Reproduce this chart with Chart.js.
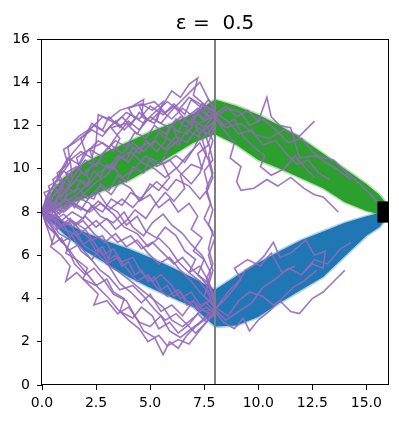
<!DOCTYPE html>
<html>
<head>
<meta charset="utf-8">
<script src="https://cdn.jsdelivr.net/npm/chart.js@4"></script>
<style>
  body { margin: 0; background: #fff; }
</style>
</head>
<body>
<canvas id="chart" width="399" height="423"></canvas>
<script>
// axis ticks
const xTicks = [0, 2.5, 5, 7.5, 10, 12.5, 15];
const yTicks = [0, 2, 4, 6, 8, 10, 12, 14, 16];

// band outlines
const bandX  = [0, 0.5, 1, 2, 3, 4, 5, 6, 7, 8, 9, 10, 11, 12, 13, 14, 15, 15.6, 16];
const greenU = [8.15, 9.0, 9.6, 10.3, 10.8, 11.25, 11.7, 12.1, 12.55, 13.2, 12.9, 12.5, 12.0, 11.4, 10.7, 10.0, 9.3, 8.8, 8.3];
const greenL = [7.9, 8.05, 8.25, 8.65, 9.05, 9.45, 10.0, 10.6, 11.2, 11.6, 11.1, 10.4, 10.0, 9.55, 9.1, 8.45, 8.05, 7.9, 7.85];
const blueU  = [8.05, 7.85, 7.55, 7.05, 6.65, 6.3, 5.9, 5.45, 4.95, 4.4, 5.05, 5.65, 6.2, 6.7, 7.1, 7.5, 7.8, 7.95, 8.1];
const blueL  = [7.9, 7.5, 7.0, 6.2, 5.6, 5.0, 4.5, 4.05, 3.6, 2.7, 2.75, 3.15, 3.8, 4.4, 5.0, 5.95, 6.9, 7.3, 7.8];

// purple walks
const walk1 = [[0,8],[0.3,8.4],[0.1,8.9],[0.6,9.1],[0.9,8.7],[1.3,9.3],[1.1,9.8],[1.6,10.1],[2.0,9.7],[2.4,10.3],[2.2,10.9],[2.8,11.2],[3.3,10.8],[3.6,11.4],[3.2,11.9],[3.9,12.1],[4.4,11.6],[4.8,12.3],[4.5,12.9],[5.2,13.1],[5.7,12.6],[6.1,13.0],[6.6,12.5],[6.9,13.2],[7.4,12.8],[7.8,12.3],[8,12.5]];
const walk2 = [[0,8],[0.4,7.8],[0.7,8.3],[1.2,8.6],[1.5,8.2],[1.9,8.8],[2.4,8.6],[2.7,9.3],[3.1,9.0],[3.5,9.7],[3.9,9.4],[4.2,10.1],[4.7,9.8],[5.0,10.5],[5.5,10.2],[5.8,10.9],[6.3,11.3],[6.1,11.8],[6.7,11.6],[7.1,12.2],[7.5,11.9],[7.9,12.4],[8,12.3]];
const walk3 = [[0,8],[0.2,8.5],[0.7,8.9],[0.5,9.5],[1.0,9.9],[1.4,9.6],[1.3,10.4],[1.8,10.8],[2.3,10.5],[2.5,11.2],[2.6,12.5],[3.1,12.3],[3.6,12.7],[4.2,12.9],[4.7,13.2],[4.6,12.4],[5.2,12.1],[5.5,12.8],[6.0,13.6],[6.4,13.3],[6.8,13.9],[7.2,14.2],[7.0,13.4],[7.6,12.9],[8,12.6]];
const walk4 = [[0,8],[0.5,8.1],[0.9,7.6],[1.4,8.0],[1.9,7.7],[2.3,8.3],[2.8,8.0],[3.2,8.6],[3.7,8.3],[4.1,8.9],[4.6,8.6],[5.0,9.3],[5.4,9.0],[5.9,9.6],[5.6,10.2],[6.2,10.6],[6.6,10.3],[7.0,10.9],[7.3,11.5],[7.1,12.0],[7.6,12.3],[8,12.4]];
const walk5 = [[0,8],[0.3,7.6],[0.8,8.0],[1.2,8.5],[1.7,8.9],[2.2,9.4],[2.0,9.9],[2.6,10.3],[3.1,10.0],[3.5,10.6],[4.0,10.3],[4.4,10.9],[4.9,11.2],[5.3,10.8],[5.8,11.4],[6.3,11.1],[6.7,11.8],[7.2,11.5],[7.6,12.0],[7.9,11.3],[7.7,10.6],[7.9,9.8],[7.6,9.1],[7.8,8.4],[7.5,7.7],[7.9,7.1],[7.7,6.3],[7.9,5.6],[7.6,4.9],[7.9,4.2],[8,3.6]];
const walk6 = [[0,8],[0.4,8.6],[0.9,9.2],[0.7,9.8],[1.2,10.2],[1.0,10.9],[1.5,11.2],[2.0,11.6],[2.4,12.0],[2.9,11.7],[3.4,12.2],[3.8,11.8],[4.3,12.3],[4.0,12.8],[4.6,13.0],[5.1,12.7],[5.6,13.1],[5.3,12.2],[5.9,11.9],[6.4,12.4],[6.9,12.1],[7.3,12.7],[7.7,13.2],[8,12.8]];
const walk7 = [[0,8],[0.2,8.7],[0.6,9.3],[1.1,9.0],[1.5,9.7],[2.0,10.4],[2.5,10.1],[2.9,10.8],[3.4,11.3],[3.9,11.0],[4.3,11.7],[4.8,11.4],[5.2,12.0],[5.7,11.6],[6.2,12.3],[6.7,11.9],[7.1,12.6],[7.5,12.2],[8,12.5]];
const walk8 = [[0,8],[0.4,8.3],[0.8,7.9],[1.3,8.4],[1.8,8.1],[2.2,8.7],[2.7,9.2],[3.2,8.8],[3.6,9.4],[4.1,9.1],[4.5,8.5],[5.0,8.8],[5.4,8.2],[5.9,8.6],[6.3,8.0],[6.8,8.4],[7.2,7.8],[6.9,7.2],[7.4,6.8],[7.0,6.2],[7.5,5.8],[7.2,5.1],[7.7,4.7],[7.5,4.1],[8,3.7]];
const walk9 = [[0,8],[0.5,7.6],[1.0,7.9],[1.5,7.4],[2.0,7.8],[2.5,7.3],[3.0,7.7],[3.4,7.2],[3.9,7.6],[4.3,8.1],[4.8,7.7],[5.2,8.3],[5.7,8.9],[6.1,8.5],[6.6,9.1],[6.4,9.7],[6.9,10.2],[7.4,10.0],[7.2,10.7],[7.7,11.1],[7.5,11.8],[8,12.2]];
const walk10 = [[0,8],[0.3,8.5],[0.8,8.2],[1.2,8.8],[1.7,9.1],[2.1,8.6],[2.6,8.9],[3.0,8.3],[3.5,8.0],[3.9,7.4],[4.4,7.8],[4.8,7.1],[5.3,6.8],[5.7,7.3],[6.2,6.9],[6.6,6.2],[7.1,5.8],[6.8,5.2],[7.3,4.8],[7.7,4.2],[8,3.5]];
const walk11 = [[0,8],[0.6,8.5],[1.1,8.1],[1.6,8.7],[2.2,8.4],[2.7,7.8],[3.3,7.5],[3.8,8.0],[4.2,7.3],[4.7,6.9],[5.1,7.5],[5.6,7.9],[6.0,7.4],[6.5,7.0],[6.9,6.5],[7.4,6.0],[7.8,5.2],[7.6,4.5],[8,3.8]];
const walk12 = [[0,8],[0.4,7.5],[0.8,7.0],[1.3,6.7],[1.1,6.1],[1.6,5.8],[2.1,5.4],[1.9,4.9],[2.5,4.6],[3.0,4.9],[3.3,4.3],[3.8,4.0],[3.6,3.4],[4.2,3.1],[4.6,3.6],[5.1,3.2],[5.4,2.6],[5.9,2.9],[6.3,2.4],[6.8,2.8],[7.2,3.3],[7.6,2.9],[8,3.4]];
const walk13 = [[0,8],[0.3,7.3],[0.7,6.9],[1.2,6.3],[1.5,5.6],[2.0,5.1],[2.4,5.4],[2.9,4.8],[3.3,4.2],[3.9,3.9],[4.3,3.2],[4.7,2.5],[5.2,2.2],[5.6,1.4],[5.9,2.0],[6.3,1.7],[6.7,2.3],[7.1,2.7],[7.5,3.0],[7.9,3.3],[8,3.5]];
const walk14 = [[0,8],[0.5,7.7],[1.0,7.2],[1.5,7.0],[2.0,6.4],[2.5,6.1],[3.0,5.6],[3.5,5.9],[4.0,5.3],[4.4,4.8],[4.9,5.1],[5.3,4.5],[5.8,4.1],[6.3,4.4],[6.7,3.9],[7.2,3.5],[7.6,3.8],[8,3.4]];
const walk15 = [[0,8],[0.2,7.4],[0.6,7.0],[0.4,6.4],[0.9,6.0],[1.3,5.5],[1.1,4.8],[1.6,5.2],[2.1,4.7],[2.6,4.2],[2.4,3.7],[3.0,3.9],[3.5,3.3],[4.0,3.6],[4.5,2.9],[5.0,2.7],[5.5,3.2],[5.9,2.5],[6.4,2.2],[6.9,2.6],[7.3,2.9],[7.7,3.3],[8,3.5]];
const walk16 = [[0,8],[0.4,8.2],[0.9,7.6],[1.4,7.3],[1.9,7.6],[2.4,7.0],[2.9,6.6],[3.4,7.0],[3.9,6.4],[4.4,6.7],[4.9,6.1],[5.4,5.6],[5.9,5.9],[6.4,5.3],[6.9,4.8],[7.3,4.3],[7.7,3.9],[8,3.6]];
const walk17 = [[0,8],[0.3,7.6],[0.8,7.3],[1.3,7.7],[1.8,7.1],[2.3,6.7],[2.8,6.9],[3.2,6.2],[3.0,5.6],[3.6,5.2],[4.1,4.8],[4.6,4.4],[5.1,4.0],[5.6,3.6],[6.0,3.0],[6.5,2.7],[7.0,3.1],[7.4,3.5],[7.9,3.2],[8,3.5]];
const walk18 = [[0,8],[0.5,7.2],[0.9,6.6],[1.4,6.9],[1.8,6.2],[2.3,5.8],[2.7,6.3],[3.1,5.5],[3.6,4.7],[4.1,4.3],[4.6,3.8],[5.0,4.2],[5.5,3.4],[6.0,3.7],[6.5,3.2],[7.0,3.9],[7.5,3.4],[8,3.5]];
const walk19 = [[8,12.5],[8.5,12.9],[9.0,12.4],[9.5,12.7],[10.0,12.2],[10.4,13.3],[10.6,12.4],[11.0,12.0],[11.5,11.9],[11.9,10.5],[12.7,10.6],[13.5,10.4],[14.1,9.8],[14.7,9.3],[15.3,8.7],[16,7.9]];
const walk20 = [[8,12.4],[8.4,11.8],[8.9,11.2],[8.7,10.5],[9.2,10.1],[9.0,9.4],[9.2,9.0],[9.8,9.1],[10.4,9.5],[10.9,9.2],[11.5,9.6],[12.1,9.1],[12.6,8.8],[13.0,8.7],[13.4,8.3],[13.7,8.0]];
const walk21 = [[8,12.6],[8.6,12.2],[9.1,11.6],[9.7,11.8],[10.2,11.1],[10.8,11.3],[11.3,10.7],[11.8,10.2],[12.3,10.4],[12.8,9.8],[13.3,9.5]];
const walk22 = [[8,12.3],[8.5,11.9],[9.2,12.1],[9.8,11.6],[10.5,11.4],[11.2,11.8],[11.9,11.5],[12.6,12.2]];
const walk23 = [[8,3.5],[8.5,4.0],[9.0,4.6],[9.4,5.3],[9.9,5.6],[10.3,6.0],[10.7,6.6],[11.0,5.9],[11.5,6.1],[12.2,6.7],[12.6,6.0],[13.1,6.2],[13.0,5.4],[12.5,5.6],[12.1,5.2]];
const walk24 = [[8,3.6],[8.6,3.2],[9.1,3.9],[9.6,4.3],[10.2,4.1],[10.7,3.7],[11.0,3.9],[11.5,3.4],[11.9,3.3],[12.5,4.0],[13.0,4.3],[13.6,4.9],[14.0,5.3]];
const walk25 = [[8,3.4],[8.4,2.9],[8.9,2.6],[9.3,3.1],[9.6,2.5],[10.0,3.0],[10.5,3.4],[11.1,4.0],[11.6,4.5],[12.1,4.8],[12.7,5.3]];
const walk26 = [[8,3.5],[8.6,4.3],[9.2,4.9],[8.9,5.4],[9.5,5.8],[10.1,5.5],[10.6,6.1],[11.1,5.2],[11.7,5.5]];
const walk27 = [[0,8],[0.3,8.9],[0.8,9.6],[1.3,10.3],[1.2,11.0],[1.7,11.5],[2.3,11.9],[2.8,12.4],[3.4,12.1],[3.9,12.6],[4.5,12.3],[5.0,12.9],[5.6,12.5],[6.1,12.9],[6.6,12.3],[7.2,12.8],[7.7,12.4],[8,12.6]];
const walk28 = [[0,8],[0.5,8.4],[1.0,8.9],[1.6,9.5],[2.1,9.2],[2.6,9.8],[3.2,10.2],[3.7,9.6],[4.2,9.9],[4.8,10.6],[5.3,10.1],[5.9,10.4],[6.4,9.8],[6.9,9.3],[7.3,9.8],[7.6,10.7],[7.4,11.4],[7.9,11.9],[8,12.4]];
const walk29 = [[0,8],[0.4,8.3],[1.0,8.0],[1.5,8.4],[2.1,8.0],[2.6,8.5],[3.1,8.1],[3.7,8.6],[4.2,8.2],[4.8,8.9],[5.3,9.4],[5.8,9.0],[6.2,9.5],[6.8,9.2],[7.3,8.6],[7.7,9.1],[7.5,9.9],[7.9,10.4],[7.7,11.2],[8,12.0]];
const walk30 = [[0,8],[0.4,7.9],[0.9,7.4],[1.4,7.6],[2.0,7.2],[2.5,7.6],[3.0,7.1],[3.5,6.6],[4.1,6.9],[4.6,6.3],[5.1,6.6],[5.6,6.1],[6.1,5.6],[6.5,5.9],[7.0,5.3],[7.4,4.9],[7.8,4.4],[8,3.9]];
const walk31 = [[0,8],[0.3,7.1],[0.5,6.5],[0.9,6.8],[1.2,6.2],[1.7,6.5],[2.2,5.9],[2.7,5.3],[3.1,5.0],[3.6,4.4],[4.2,4.6],[4.7,4.1],[5.2,3.5],[5.7,3.0],[6.2,3.3],[6.6,2.9],[7.1,2.4],[7.5,2.8],[8,3.4]];
const walk32 = [[0,8],[0.5,8.6],[0.3,9.2],[0.8,9.5],[1.3,9.2],[1.8,9.8],[1.6,10.5],[2.2,10.9],[2.7,10.6],[3.2,11.1],[3.7,10.7],[4.2,11.2],[4.7,10.8],[5.2,11.3],[5.7,10.9],[6.2,11.5],[6.7,11.2],[7.2,11.9],[7.7,11.6],[8,12.3]];
const walk33 = [[8,12.5],[8.4,12.0],[8.9,12.3],[9.3,11.5],[9.8,11.0],[10.3,10.6],[10.1,10.1],[10.6,9.7],[11.2,10.0],[11.7,10.6],[12.2,10.0],[12.6,9.6]];
const walk34 = [[8,12.4],[8.6,12.8],[9.2,12.6],[9.6,12.0],[10.2,12.3],[10.8,11.8],[11.4,11.2],[12.0,11.4],[12.5,10.8],[13.1,10.3],[13.6,10.0],[14.3,9.5]];
const walk35 = [[8,3.5],[8.5,3.0],[9.1,3.4],[9.7,3.8],[10.2,4.5],[10.8,4.9],[11.4,5.4],[12.0,5.1],[12.6,5.8],[13.2,5.6],[13.8,6.3],[14.3,6.6]];
const walk36 = [[0,8],[0.2,8.4],[0.5,8.0],[0.7,8.6],[1.0,9.2],[0.8,9.8],[1.2,10.5],[1.7,10.2],[2.0,10.8],[1.8,11.4],[2.3,11.8],[2.8,11.5],[3.2,12.0],[3.7,12.4],[4.1,12.0],[4.5,12.6],[5.0,12.2],[5.5,12.7],[6.0,12.3],[6.5,12.8],[7.0,12.4],[7.4,13.0],[7.9,12.7],[8,12.4]];
const walk37 = [[0,8],[0.3,7.7],[0.6,7.9],[0.9,7.3],[1.3,7.5],[1.6,6.9],[2.0,7.2],[2.4,6.6],[2.8,6.0],[3.3,6.3],[3.7,5.7],[4.2,5.9],[4.6,5.2],[5.1,4.8],[5.5,5.1],[6.0,4.6],[6.4,4.0],[6.9,4.3],[7.3,3.7],[7.8,3.9],[8,3.5]];
const walk38 = [[0,8],[0.5,8.2],[1.1,8.6],[1.6,8.3],[2.2,8.0],[2.7,8.4],[3.3,7.9],[3.8,7.3],[4.4,7.0],[4.9,6.4],[5.4,6.8],[5.9,6.3],[6.3,5.7],[6.8,5.2],[7.3,5.5],[7.7,4.8],[8,4.0]];
const walk39 = [[0,8],[0.4,9.0],[0.9,9.9],[1.4,10.7],[1.9,11.3],[2.3,12.1],[2.8,11.8],[3.1,12.4],[3.6,11.9],[4.1,12.5],[4.7,12.1],[5.2,12.6],[5.8,13.1],[6.3,12.7],[6.8,13.3],[7.3,13.0],[7.8,12.6],[8,12.5]];
const walk40 = [[0,8],[0.2,8.3],[0.5,8.1],[0.7,8.7],[1.0,8.5],[1.2,9.1],[1.5,8.9],[1.8,9.5],[2.1,9.3],[2.4,9.9],[2.7,9.6],[3.0,10.2],[3.3,10.0],[3.6,10.6],[3.9,10.4],[4.2,11.0],[4.5,10.7],[4.8,11.3],[5.1,11.1],[5.4,11.7],[5.7,11.4],[6.0,12.0],[6.3,11.7],[6.6,12.3],[6.9,12.0],[7.2,12.6],[7.5,12.3],[7.8,12.8],[8,12.5]];
const walk41 = [[0,8],[0.2,7.6],[0.5,7.8],[0.7,7.2],[1.0,7.4],[1.3,6.9],[1.6,7.1],[1.9,6.5],[2.2,6.7],[2.5,6.2],[2.8,6.4],[3.1,5.8],[3.4,6.0],[3.7,5.5],[4.0,5.7],[4.3,5.1],[4.6,5.3],[4.9,4.8],[5.2,5.0],[5.5,4.4],[5.8,4.6],[6.1,4.1],[6.4,4.3],[6.7,3.7],[7.0,3.9],[7.3,3.4],[7.6,3.6],[8,3.3]];
const walk42 = [[0,8],[0.6,8.0],[1.2,8.3],[1.8,8.7],[2.4,9.3],[3.0,9.7],[3.5,10.4],[4.1,10.8],[4.6,10.3],[5.2,10.0],[5.7,9.6],[6.3,10.1],[6.8,10.7],[7.3,11.2],[7.7,10.4],[7.9,9.6],[7.6,8.9],[7.9,8.1],[7.7,7.4],[8,6.8],[7.7,6.0],[7.9,5.3],[7.7,4.6],[8,3.9]];
const walk43 = [[0,8],[0.4,7.4],[0.8,6.8],[1.3,6.2],[1.7,5.6],[2.2,5.0],[2.6,4.5],[3.1,4.0],[3.5,3.5],[4.0,3.0],[4.5,2.6],[4.9,2.0],[5.4,2.3],[5.8,1.8],[6.3,2.1],[6.8,1.9],[7.2,2.4],[7.6,2.9],[8,3.3]];
const walk44 = [[0,8],[0.3,8.6],[0.8,9.0],[1.2,9.7],[1.7,10.1],[2.1,10.8],[2.6,11.3],[3.1,11.0],[3.5,11.6],[4.0,12.2],[4.5,11.8],[5.0,12.4],[5.5,12.1],[6.0,12.7],[6.5,13.2],[6.9,13.6],[7.3,14.0],[7.6,13.4],[7.9,12.8],[8,12.5]];
const walks = [walk1, walk2, walk3, walk4, walk5, walk6, walk7, walk8, walk9, walk10, walk11, walk12, walk13,
  walk14, walk15, walk16, walk17, walk18, walk19, walk20, walk21, walk22, walk23, walk24, walk25, walk26,
  walk27, walk28, walk29, walk30, walk31, walk32, walk33, walk34, walk35, walk36, walk37, walk38, walk39,
  walk40, walk41, walk42, walk43, walk44];

const startPoint = [0, 8];
const goalPoint = [16, 8];
const wallX = 8;

const GREEN = '#2ca02c';
const BLUE = '#1f77b4';
const PURPLE = 'rgba(148,103,189,0.9)';

function bandLine(ys) {
  return bandX.map((x, i) => ({ x, y: ys[i] }));
}

function band(upper, lower, fillColor, edgeColor, order) {
  const base = { pointRadius: 0, borderWidth: 3, borderColor: edgeColor, order, clip: 0 };
  return [
    { ...base, data: bandLine(upper), fill: false },
    { ...base, data: bandLine(lower), fill: '-1', backgroundColor: fillColor }
  ];
}

const walkSets = walks.map(w => ({
  data: w.map(p => ({ x: p[0], y: p[1] })),
  borderColor: PURPLE,
  borderWidth: 1.6,
  pointRadius: 0,
  fill: false,
  order: 5,
  clip: 0
}));

// matplotlib style box round the axes
const frame = {
  id: 'frame',
  afterDatasetsDraw(chart) {
    const { ctx, chartArea: a } = chart;
    ctx.save();
    ctx.strokeStyle = '#000';
    ctx.lineWidth = 1;
    ctx.strokeRect(Math.round(a.left) - 0.5, Math.round(a.top) + 0.5,
      Math.round(a.right - a.left) + 1, Math.round(a.bottom - a.top) - 1);
    ctx.restore();
  }
};

new Chart(document.getElementById('chart'), {
  type: 'line',
  data: {
    datasets: [
      ...band(greenU, greenL, GREEN, 'rgba(44,160,44,0.35)', 10),
      ...band(blueU, blueL, BLUE, 'rgba(31,119,180,0.35)', 9),
      { data: [{ x: startPoint[0], y: startPoint[1] }], pointStyle: 'rect', pointRadius: 5,
        pointBackgroundColor: '#d62728', pointBorderWidth: 0, showLine: false, order: 8, clip: 0 },
      ...walkSets,
      { data: [{ x: goalPoint[0], y: goalPoint[1] }], pointStyle: 'rect', pointRadius: 15,
        pointBackgroundColor: '#000', pointBorderWidth: 0, showLine: false, order: 2, clip: 0 },
      { data: [{ x: wallX, y: 0 }, { x: wallX, y: 16 }], borderColor: '#7f7f7f', borderWidth: 2,
        pointRadius: 0, order: 1, clip: 0 }
    ]
  },
  options: {
    responsive: false,
    animation: false,
    layout: { padding: { right: 11 }, autoPadding: false },
    plugins: {
      legend: { display: false },
      tooltip: { enabled: false },
      title: {
        display: true,
        fullSize: false,
        text: 'ε =  0.5',
        color: '#000',
        font: { family: 'DejaVu Sans', size: 20, weight: 'normal' },
        padding: { top: 12, bottom: 3 }
      }
    },
    scales: {
      x: {
        type: 'linear', min: 0, max: 16,
        afterBuildTicks: s => { s.ticks = xTicks.map(v => ({ value: v })); },
        afterFit: s => { s.height = 38; s.paddingLeft = 0; s.paddingRight = 0; },
        ticks: { color: '#000', padding: 5, maxRotation: 0, font: { family: 'DejaVu Sans', size: 14 },
          callback: v => v.toFixed(1) },
        grid: { drawOnChartArea: false, tickLength: 5, color: '#000' },
        border: { display: false }
      },
      y: {
        type: 'linear', min: 0, max: 16,
        afterBuildTicks: s => { s.ticks = yTicks.map(v => ({ value: v })); },
        afterFit: s => { s.width = 42; },
        ticks: { color: '#000', padding: 7, font: { family: 'DejaVu Sans', size: 14 } },
        grid: { drawOnChartArea: false, tickLength: 5, color: '#000' },
        border: { display: false }
      }
    }
  },
  plugins: [frame]
});
</script>
</body>
</html>
